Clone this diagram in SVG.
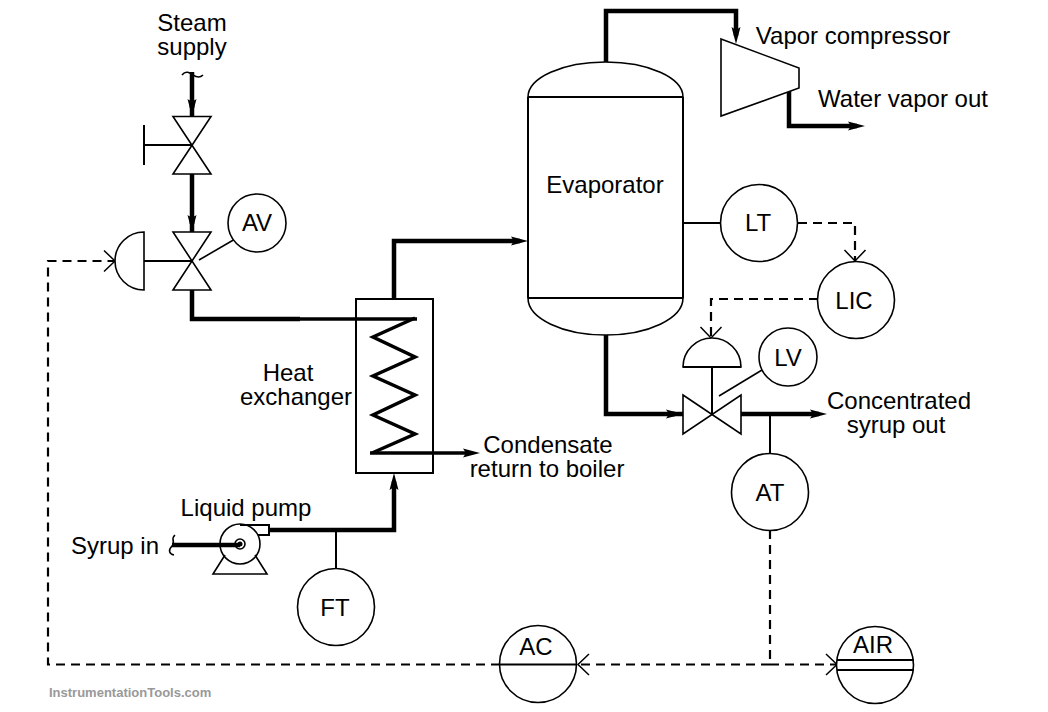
<svg xmlns="http://www.w3.org/2000/svg" width="1048" height="712" viewBox="0 0 1048 712">
<style>
text{font-family:"Liberation Sans",Arial,sans-serif;font-size:24px;fill:#000;text-anchor:middle}
.s{fill:#fff;stroke:#000;stroke-width:1.6}
.o{fill:none;stroke:#000;stroke-width:1.6}
.m{fill:none;stroke:#000;stroke-width:2}
.p{fill:none;stroke:#000;stroke-width:4.500;stroke-linejoin:miter}
.c{fill:none;stroke:#000;stroke-width:3.500;stroke-linejoin:miter}
.a{marker-end:url(#arr)}
.d{fill:none;stroke:#000;stroke-width:2.200;stroke-dasharray:9 6}
.w{fill:#fff;stroke:#000;stroke-width:1.6}
</style>
<defs>
<marker id="arr" markerUnits="userSpaceOnUse" markerWidth="18" markerHeight="12" refX="9" refY="6" orient="auto"><path d="M0 1.500L17 6L0 10.500L3 6Z" fill="#000"/></marker>
<marker id="open" markerUnits="userSpaceOnUse" markerWidth="14" markerHeight="24" refX="12" refY="12" orient="auto"><path d="M1 1.500L12 12L1 22.500" fill="none" stroke="#000" stroke-width="1.500"/></marker>
</defs>
<rect width="1048" height="712" fill="#fff"/>
<g id="connectors">
<path class="p a" d="M192 72V108"/><path class="p" d="M192 100V117"/>
<path class="p a" d="M192 174V224"/><path class="p" d="M192 216V232"/>
<path class="p" d="M192 290V319H300"/>
<path class="c" d="M298 319H417"/>
<path class="c" d="M415 318L373 337L415 357L373 376L415 395L373 415L415 434L372 453"/>
<path class="c a" d="M370 453H472"/>
<path class="p a" d="M394 299V241H520"/>
<path class="p a" d="M269 530H394V481"/>
<path class="p" d="M172 545H240"/>
<path class="p a" d="M606 62V11H736V36"/>
<path class="p a" d="M789 90V126H857"/>
<path class="p a" d="M606 335V414H675"/><path class="p" d="M668 414H683"/>
<path class="p a" d="M741 414H819"/>
<path class="m" d="M336 530V569"/>
<path class="m" d="M683 223H721"/>
<path class="m" d="M770 414V454"/>
<path class="d" d="M798 223H855V261" marker-end="url(#open)"/>
<path class="d" d="M818 299H711V338" marker-end="url(#open)"/>
<path class="d" d="M770 530V664"/>
<path class="d" d="M770 664.500H578" marker-end="url(#open)"/>
<path class="d" d="M770 664.500H837" marker-end="url(#open)"/>
<path class="d" d="M500 664.500H48V261H115" marker-end="url(#open)"/>
<path class="o" d="M199 260L242 235"/>
<path class="o" d="M719 396L762 370"/>
</g>
<g id="steam-supply"><text x="192" y="31"><tspan x="192">Steam</tspan><tspan x="192" dy="24">supply</tspan></text><path class="o" d="M182 75C186 70 190 73 193 75S200 78 203 75"/></g>
<g id="hand-valve"><path class="s" d="M173 116.500H211L173 174H211Z"/><path class="m" d="M144 125V165M144 145H192"/></g>
<g id="control-valve"><path class="s" d="M173 232H211L173 290H211Z"/><path class="s" d="M144 232A29 29 0 0 0 144 290Z"/><path class="m" d="M144 261H192"/></g>
<g id="AV"><circle class="w" cx="257" cy="223" r="29"/><text x="257" y="231">AV</text></g>
<g id="heat-exchanger"><rect x="356" y="299" width="77" height="174" fill="none" stroke="#000" stroke-width="2"/><text y="381"><tspan x="288">Heat</tspan><tspan x="296" dy="24">exchanger</tspan></text></g>
<g id="condensate"><text y="453"><tspan x="548">Condensate</tspan><tspan x="547" dy="24">return to boiler</tspan></text></g>
<g id="liquid-pump"><text x="246" y="516">Liquid pump</text><path class="m" d="M240 525H269V535H258"/><path class="s" d="M225 555L213 574H267L255 555"/><circle class="o" cx="240" cy="544" r="20"/><circle class="o" cx="240" cy="544" r="5"/><circle cx="240" cy="544" r="2.500"/></g>
<g id="syrup-in"><text x="115" y="554">Syrup in</text><path class="o" d="M175 535C170 539 176 542 172 546S169 554 174 555"/></g>
<g id="FT"><circle class="w" cx="336" cy="607" r="38.500"/><text x="335" y="616">FT</text></g>
<g id="evaporator"><path class="s" d="M528 97A77.500 35 0 0 1 683 97V298A77.500 37 0 0 1 528 298Z"/><path class="m" d="M528 97H683M528 298H683M528 97V298M683 97V298"/><text x="605" y="193">Evaporator</text></g>
<g id="vapor-compressor"><path class="s" d="M721 39L799 68V88L721 116Z"/><text x="853" y="44">Vapor compressor</text><text x="903" y="107">Water vapor out</text></g>
<g id="LT"><circle class="w" cx="759" cy="223" r="38.500"/><text x="758" y="231">LT</text></g>
<g id="LIC"><circle class="w" cx="856" cy="300" r="38.500"/><text x="854" y="309">LIC</text></g>
<g id="level-valve"><path class="s" d="M683 395L741 434V395L683 434Z"/><path class="s" d="M683 367A29 29 0 0 1 741 367Z"/><path class="m" d="M712 367V414M683 367H741"/></g>
<g id="LV"><circle class="w" cx="788" cy="357" r="29"/><text x="788" y="366">LV</text></g>
<g id="syrup-out"><text y="409"><tspan x="899">Concentrated</tspan><tspan x="896" dy="24">syrup out</tspan></text></g>
<g id="AT"><circle class="w" cx="770" cy="492" r="38.500"/><text x="770" y="501">AT</text></g>
<g id="AC"><circle class="w" cx="538" cy="664" r="38.500"/><path class="m" d="M500 664.500H577"/><text x="536" y="655">AC</text></g>
<g id="AIR"><circle class="w" cx="875" cy="665" r="38.500"/><path class="m" d="M837 660H914M837 670H914"/><text x="873" y="653">AIR</text></g>
<text x="49" y="697" style="font-size:13px;font-weight:bold;fill:#999;text-anchor:start">InstrumentationTools.com</text>
</svg>
